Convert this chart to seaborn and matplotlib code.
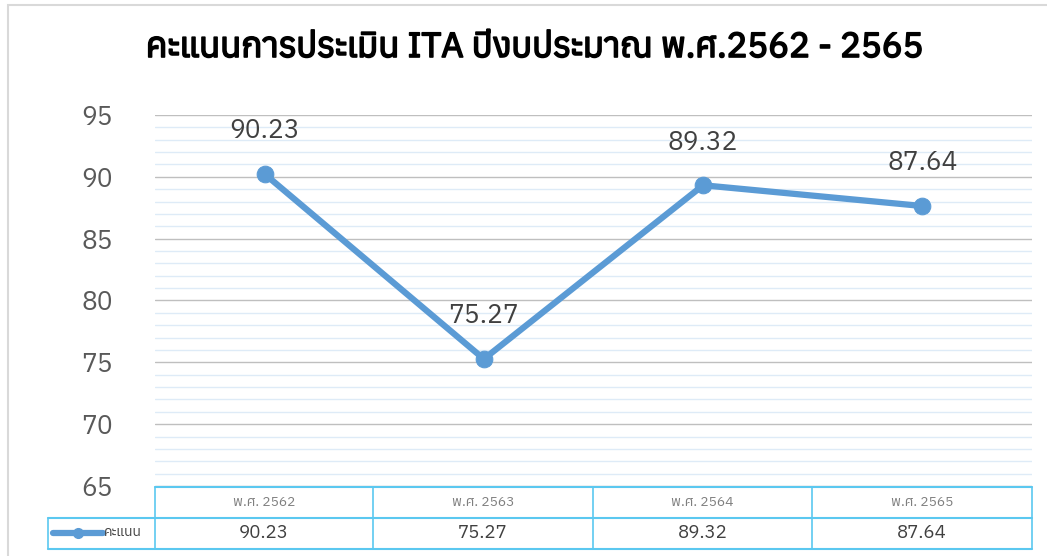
import numpy as np
import pandas as pd
import matplotlib
matplotlib.use('Agg')
import matplotlib.pyplot as plt
import matplotlib.patheffects as pe
import seaborn as sns
from matplotlib import font_manager
from matplotlib.ft2font import FT2Font
from matplotlib.lines import Line2D
from matplotlib.patches import Rectangle

title = 'คะแนนการประเมิน ITA ปีงบประมาณ พ.ศ.2562 - 2565'
years = ['พ.ศ. 2562', 'พ.ศ. 2563', 'พ.ศ. 2564', 'พ.ศ. 2565']
scores = [90.23, 75.27, 89.32, 87.64]
series_name = 'คะแนน'
yticks = [65, 70, 75, 80, 85, 90, 95]

sns.set_theme(style='white')

# find something that can draw Thai
thai = []
for f in font_manager.fontManager.ttflist:
    try:
        if 0x0E04 in FT2Font(f.fname).get_charmap():
            thai.append(f.name)
    except Exception:
        pass
thai = sorted(set(thai))
plt.rcParams['font.family'] = thai[:1] + ['DejaVu Sans']

df = pd.DataFrame({'year': years, 'score': scores})
blue = '#5B9BD5'
edge = '#5BC8F0'

fig = plt.figure(figsize=(10.47, 5.56), dpi=100)
W, H = 1047, 556
def fx(px): return px / W
def fy(py): return 1 - py / H

fig.add_artist(Rectangle((fx(8), fy(560)), fx(1060), fy(5) - fy(560), fill=False,
                         edgecolor='#D9D9D9', linewidth=1.5, transform=fig.transFigure))

ax = fig.add_axes([fx(155), fy(486), fx(1032) - fx(155), fy(115) - fy(486)])
ax.set_ylim(65, 95)
ax.set_xlim(-0.5, len(years) - 0.5)
for v in np.arange(65, 95.1, 1):
    if v % 5:
        ax.axhline(v, color='#DEEBF7', lw=1, zorder=0)
    else:
        ax.axhline(v, color='#BFBFBF', lw=1, zorder=0)

x = np.arange(len(years))
sns.lineplot(x=x, y=df['score'], ax=ax, color=blue, linewidth=4.5, marker='o',
             markersize=12, markeredgecolor=blue, zorder=3)
for xi, s in zip(x, scores):
    ax.annotate(f'{s:.2f}', (xi, s), xytext=(0, 31), textcoords='offset points',
                ha='center', va='center', fontsize=19, color='#404040')

ax.set_yticks(yticks)
ax.set_yticklabels([str(t) for t in yticks], fontsize=19, color='#595959')
ax.tick_params(axis='y', length=0, pad=30)
ax.set_xticks([])
ax.set_xlabel('')
ax.set_ylabel('')
for s in ax.spines.values():
    s.set_visible(False)

# font has no bold face, so thicken the title with a stroke
t = fig.text(fx(535), fy(48), title, ha='center', va='center', fontsize=25,
             color='#000000')
t.set_path_effects([pe.withStroke(linewidth=1.2, foreground='#000000')])

# data table under the plot
cols = [155, 373, 593, 812, 1032]
rows = [487, 518, 549]
tbl = fig.add_axes([0, 0, 1, 1], facecolor='none')
tbl.set_xlim(0, W)
tbl.set_ylim(H, 0)
tbl.axis('off')
tbl.plot([cols[0], cols[-1]], [rows[0], rows[0]], color=edge, lw=1.5)
tbl.plot([48, cols[-1]], [rows[1], rows[1]], color=edge, lw=1.5)
tbl.plot([48, cols[-1]], [rows[2], rows[2]], color=edge, lw=1.5)
for c in cols:
    tbl.plot([c, c], [rows[0], rows[2]], color=edge, lw=1.2)
tbl.plot([48, 48], [rows[1], rows[2]], color=edge, lw=1.2)
for i, (yr, s) in enumerate(zip(years, scores)):
    cx = (cols[i] + cols[i + 1]) / 2
    tbl.text(cx, (rows[0] + rows[1]) / 2, yr, ha='center', va='center',
             fontsize=10, color='#7F7F7F')
    tbl.text(cx, (rows[1] + rows[2]) / 2, f'{s:.2f}', ha='center', va='center',
             fontsize=13.5, color='#404040')
tbl.add_line(Line2D([53, 103], [533, 533], color=blue, lw=4.5))
tbl.add_line(Line2D([78], [533], color=blue, marker='o', markersize=7))
tbl.text(104, 533, series_name, ha='left', va='center', fontsize=10, color='#404040')

fig.savefig('out.png', dpi=100)
